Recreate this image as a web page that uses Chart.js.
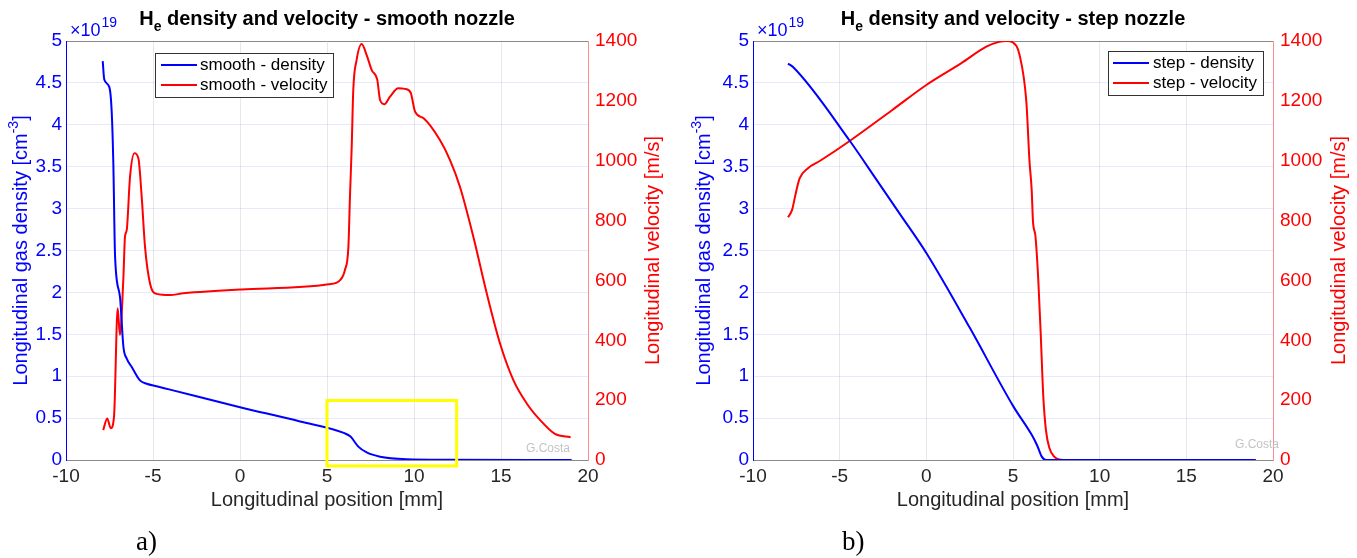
<!DOCTYPE html>
<html>
<head>
<meta charset="utf-8">
<script src="https://cdn.jsdelivr.net/npm/chart.js@4.4.1/dist/chart.umd.min.js"></script>
<style>
body { margin:0; background:#fff; width:1357px; height:558px; position:relative; overflow:hidden;
       font-family:"Liberation Sans", Arial, Helvetica, sans-serif; }
canvas { position:absolute; top:0; }
#c1 { left:0; }
#c2 { left:680px; }
.title { position:absolute; top:6px; font-weight:bold; font-size:20px; color:#000; white-space:nowrap;
         transform:translateX(-50%); line-height:24px; }
.title sub { font-size:14px; vertical-align:-6px; line-height:0; }
.tag { position:absolute; top:526px; font-family:"Liberation Serif", "DejaVu Serif", serif; font-size:27px; color:#000; }
</style>
</head>
<body>
<canvas id="c1" width="680" height="558"></canvas>
<canvas id="c2" width="677" height="558"></canvas>
<div class="title" style="left:327px">H<sub>e</sub> density and velocity - smooth nozzle</div>
<div class="title" style="left:1013px">H<sub>e</sub> density and velocity - step nozzle</div>
<div class="tag" style="left:136px">a)</div>
<div class="tag" style="left:842px">b)</div>
<script>
// a) smooth nozzle - density in units of 1e19 cm^-3, velocity in m/s
const smoothDensX = [-7.89, -7.80, -7.51, -7.37, -7.28, -7.18, -6.9, -6.7, -6.51, -6.22, -5.75, -5.36, -4.79, -4.02,
                     0, 3.45, 6.0, 6.35, 6.8, 7.28, 8.05, 9.58, 12, 19.06];
const smoothDens = [4.76, 4.54, 4.45, 4.14, 3.54, 2.43, 1.95, 1.35, 1.21, 1.11, 0.95, 0.91, 0.88, 0.84,
                    0.63, 0.46, 0.32, 0.28, 0.16, 0.09, 0.04, 0.01, 0.003, 0];
const smoothVelX = [-7.86, -7.63, -7.43, -7.24, -7.03, -6.9, -6.7, -6.61, -6.51, -6.32, -6.07, -5.84, -5.65,
                    -5.46, -5.17, -4.79, -4.02, -3.26, 0.1, 5.09, 5.75, 6.03, 6.23, 6.32, 6.42, 6.51, 6.7,
                    6.99, 7.28, 7.57, 7.89, 8.05, 8.3, 8.62, 9.1, 9.48, 9.81, 10.06, 10.57, 11.49, 12.07,
                    12.64, 13.41, 14.18, 14.94, 15.71, 16.48, 17.24, 18.1, 19.0];
const smoothVel = [100, 139, 106, 145, 507, 418, 612, 746, 768, 947, 1025, 1008, 880,
                   713, 590, 555, 551, 557, 570, 587, 601, 635, 713, 880, 1047, 1236, 1336,
                   1390, 1353, 1303, 1270, 1203, 1189, 1214, 1242, 1240, 1227, 1164, 1141, 1069, 1002,
                   913, 746, 557, 390, 267, 189, 134, 87, 76];

// b) step nozzle
const stepDensX = [-7.98, -7.69, -4.42, -2.86, -1.54, 0, 2.5, 5.02, 6.08, 6.4, 6.66, 6.9, 19.0];
const stepDens = [4.73, 4.69, 3.81, 3.34, 2.94, 2.47, 1.58, 0.64, 0.30, 0.17, 0.04, 0, 0];
const stepVelX = [-7.98, -7.75, -7.5, -7.31, -6.83, -6.15, -4.42, -2, 0, 2, 3.46, 4.2, 4.62, 5.0, 5.38,
                  5.77, 5.95, 6.08, 6.15, 6.3, 6.46, 6.6, 6.75, 6.9, 7.1, 7.4, 7.9, 19.0];
const stepVel = [811, 835, 900, 941, 975, 999, 1066, 1168, 1253, 1325, 1381, 1397, 1400, 1395, 1353,
                 1197, 1000, 900, 800, 745, 600, 420, 210, 100, 40, 10, 0, 0];

// axes
const xRange = [-10, 20];
const xStep = 5;
const densRange = [0, 5];
const densStep = 0.5;
const velRange = [0, 1400];
const velStep = 200;

// highlighted region on plot a) (x in mm, y in 1e19 cm^-3)
const boxX = [5, 12.45];
const boxY = [-0.07, 0.71];

const xTitle = 'Longitudinal position [mm]';
const densTitle = 'Longitudinal gas density [cm';
const velTitle = 'Longitudinal velocity [m/s]';

const FONT = '"Liberation Sans", Arial, Helvetica, sans-serif';
const BLUE = '#0000ff', RED = '#ff0000';

const pts = (xs, ys) => xs.map((x, i) => ({ x: x, y: ys[i] }));

function rotText(ctx, x, cy, parts, color) {
  ctx.save();
  ctx.translate(x, cy);
  ctx.rotate(-Math.PI / 2);
  ctx.fillStyle = color;
  ctx.textBaseline = 'middle';
  ctx.textAlign = 'left';
  let total = 0;
  parts.forEach(p => { ctx.font = p.size + 'px ' + FONT; total += ctx.measureText(p.t).width; });
  let cx = -total / 2;
  parts.forEach(p => {
    ctx.font = p.size + 'px ' + FONT;
    ctx.fillText(p.t, cx, p.dy || 0);
    cx += ctx.measureText(p.t).width;
  });
  ctx.restore();
}

const decor = {
  id: 'decor',
  afterDatasetsDraw(chart, args, o) {
    const ctx = chart.ctx;
    const sx = chart.scales.x, sy = chart.scales.y;
    ctx.save();
    // watermark
    ctx.fillStyle = '#c4c4c4';
    ctx.font = '12px ' + FONT;
    ctx.textBaseline = 'middle';
    ctx.fillText('G.Costa', o.markX, o.markY);
    // highlight box
    if (o.box) {
      const x0 = sx.getPixelForValue(boxX[0]), x1 = sx.getPixelForValue(boxX[1]);
      const y0 = sy.getPixelForValue(boxY[0]), y1 = sy.getPixelForValue(boxY[1]);
      ctx.strokeStyle = '#ffff00';
      ctx.lineWidth = 3;
      ctx.strokeRect(x0, y1, x1 - x0, y0 - y1);
    }
    ctx.restore();
  },
  afterDraw(chart, args, o) {
    const ctx = chart.ctx, a = chart.chartArea;
    const cy = (a.top + a.bottom) / 2;
    rotText(ctx, o.yTitleX, cy, [
      { t: densTitle, size: 20 }, { t: '-3', size: 14, dy: -7 }, { t: ']', size: 20 }], BLUE);
    rotText(ctx, o.y2TitleX, cy, [{ t: velTitle, size: 20 }], RED);
    // exponent label
    ctx.save();
    ctx.fillStyle = BLUE;
    ctx.textBaseline = 'alphabetic';
    ctx.font = '18px ' + FONT;
    ctx.fillText('\u00d710', o.expX, 36);
    const w = ctx.measureText('\u00d710').width;
    ctx.font = '14px ' + FONT;
    ctx.fillText('19', o.expX + w + 1, 27);
    // legend
    const L = o.legend;
    ctx.fillStyle = '#fff';
    ctx.fillRect(L.x, L.y, L.w, L.h);
    ctx.strokeStyle = '#333';
    ctx.lineWidth = 1;
    ctx.strokeRect(L.x + 0.5, L.y + 0.5, L.w, L.h);
    ctx.font = '17px ' + FONT;
    ctx.textBaseline = 'middle';
    chart.data.datasets.forEach((ds, i) => {
      const y = L.rows[i];
      ctx.strokeStyle = ds.borderColor;
      ctx.lineWidth = 2;
      ctx.beginPath();
      ctx.moveTo(L.lineX[0], y);
      ctx.lineTo(L.lineX[1], y);
      ctx.stroke();
      ctx.fillStyle = '#000';
      ctx.fillText(ds.label, L.textX, y);
    });
    ctx.restore();
  }
};

function makeChart(id, label, densX, dens, velX, vel, p) {
  const tickFont = { family: FONT, size: 19 };
  return new Chart(document.getElementById(id).getContext('2d'), {
    type: 'line',
    data: {
      datasets: [
        { label: label + ' - density', data: pts(densX, dens), yAxisID: 'y', borderColor: BLUE,
          borderWidth: 2, pointRadius: 0, cubicInterpolationMode: 'monotone', fill: false },
        { label: label + ' - velocity', data: pts(velX, vel), yAxisID: 'y2', borderColor: RED,
          borderWidth: 2, pointRadius: 0, cubicInterpolationMode: 'monotone', fill: false }
      ]
    },
    options: {
      responsive: false,
      animation: false,
      events: [],
      layout: { padding: { top: 41, bottom: 46, left: 0, right: 0 } },
      plugins: { legend: { display: false }, tooltip: { enabled: false }, decor: p },
      scales: {
        x: {
          type: 'linear', min: xRange[0], max: xRange[1],
          afterFit: s => { s.height = 52; },
          ticks: { stepSize: xStep, color: '#262626', font: tickFont, padding: 5, maxRotation: 0,
                   callback: v => String(v) },
          grid: { drawTicks: false,
                  color: c => (c.tick.value === xRange[0] || c.tick.value === xRange[1]) ? 'rgba(0,0,0,0)' : 'rgba(0,0,0,0.09)' },
          border: { color: '#8a8a8a', width: 1 },
          title: { display: true, text: xTitle, color: '#262626', font: { family: FONT, size: 20 }, padding: 0 }
        },
        y: {
          position: 'left', min: densRange[0], max: densRange[1],
          afterFit: s => { s.width = p.leftW; },
          ticks: { stepSize: densStep, color: BLUE, font: tickFont, padding: 4, callback: v => String(v) },
          grid: { drawTicks: false,
                  color: c => c.tick.value === densRange[0] ? 'rgba(0,0,0,0)' :
                              (c.tick.value === densRange[1] ? '#8a8a8a' : 'rgba(0,0,255,0.09)') },
          border: { color: BLUE, width: 1 }
        },
        y2: {
          position: 'right', min: velRange[0], max: velRange[1],
          afterFit: s => { s.width = p.rightW; },
          ticks: { stepSize: velStep, color: RED, font: tickFont, padding: 7, callback: v => String(v) },
          grid: { display: false, drawTicks: false },
          border: { display: true, color: '#ff8c8c', width: 1 }
        }
      }
    },
    plugins: [decor]
  });
}

makeChart('c1', 'smooth', smoothDensX, smoothDens, smoothVelX, smoothVel, {
  leftW: 66, rightW: 92, yTitleX: 21, y2TitleX: 653, expX: 70, markX: 526, markY: 449, box: true,
  legend: { x: 155, y: 53, w: 178, h: 44, rows: [65, 85], lineX: [161, 197], textX: 200 }
});
makeChart('c2', 'step', stepDensX, stepDens, stepVelX, stepVel, {
  leftW: 73, rightW: 84, yTitleX: 24, y2TitleX: 659, expX: 77, markX: 555, markY: 445, box: false,
  legend: { x: 428, y: 51, w: 155, h: 44, rows: [63, 83], lineX: [433, 469], textX: 473 }
});
</script>
</body>
</html>
